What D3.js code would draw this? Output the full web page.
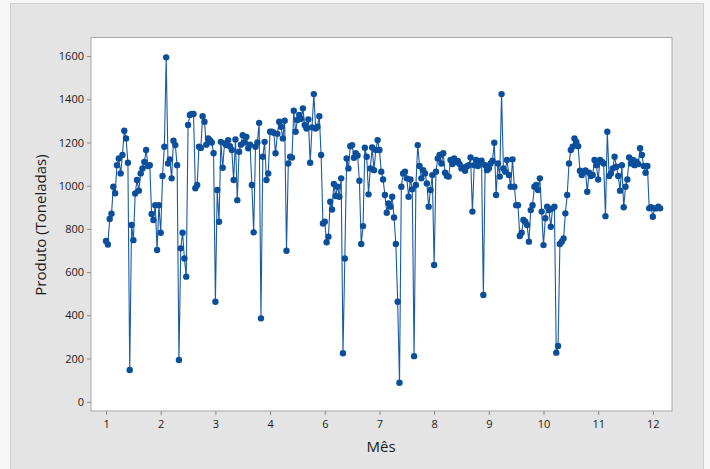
<!DOCTYPE html>
<html>
<head>
<meta charset="utf-8">
<script src="https://cdn.jsdelivr.net/npm/d3@7"></script>
<style>
  body { margin: 0; background: #f7f7f7; }
  text { font-family: "Open Sans", "Noto Sans", sans-serif; fill: #1a1a1a; }
  .tick text { font-size: 11px; fill: #1a1a1a; }
  .axis-label { font-size: 15px; }
</style>
</head>
<body>
<div id="chart"></div>
<script>
// produção diária por mês (toneladas)
const mes1 = [744, 728, 846, 870, 995, 965, 1095, 1126, 1057, 1142, 1254, 1219, 1106, 147, 818, 748, 964, 1026, 977, 1057, 1080, 1110, 1165, 1091, 1095, 869, 841, 910, 702, 910];
const mes2 = [782, 1045, 1180, 1594, 1103, 1122, 1034, 1208, 1188, 1095, 193, 710, 782, 663, 579, 1281, 1327, 1332, 1332, 988, 1003, 1180, 1175, 1322, 1296, 1190, 1219, 1211, 1200, 1150];
const mes3 = [463, 980, 833, 1203, 1083, 1196, 1188, 1211, 1183, 1165, 1026, 1214, 933, 1157, 1190, 1234, 1200, 1226, 1173, 1190, 1003, 784, 1180, 1200, 1291, 386, 1134, 1203, 1026, 1057];
const mes4 = [1250, 1250, 1245, 1150, 1240, 1296, 1273, 1219, 1301, 699, 1103, 1134, 1130, 1347, 1250, 1304, 1327, 1310, 1358, 1281, 1265, 1307, 1106, 1270, 1424, 1265, 1273, 1322, 1142, 825];
const mes6 = [833, 738, 764, 926, 890, 1008, 952, 995, 949, 1034, 224, 663, 1126, 1080, 1183, 1188, 1129, 1150, 1140, 1023, 730, 813, 1176, 1134, 960, 1080, 1177, 1072, 1165, 1211];
const mes7 = [1165, 1065, 1029, 957, 875, 918, 903, 949, 853, 730, 463, 88, 995, 1057, 1065, 1034, 949, 1029, 983, 211, 1003, 1188, 1091, 1034, 1072, 1057, 1010, 903, 980, 1049];
const mes8 = [633, 1065, 1126, 1142, 1103, 1150, 1060, 1045, 1042, 1119, 1100, 1126, 1110, 1115, 1100, 1080, 1085, 1069, 1090, 1095, 1131, 880, 1095, 1119, 1091, 1110, 1116, 494, 1095, 1072];
const mes9 = [1080, 1103, 1116, 1199, 957, 1103, 1042, 1424, 1080, 1065, 1119, 1050, 995, 1122, 995, 910, 910, 767, 782, 841, 833, 818, 741, 887, 910, 995, 1003, 980, 1034, 880];
const mes10 = [725, 849, 903, 887, 810, 895, 903, 227, 258, 730, 741, 756, 872, 957, 1103, 1165, 1180, 1219, 1203, 1183, 1069, 1049, 1065, 1070, 972, 1060, 1045, 1050, 1119, 1095];
const mes11 = [1029, 1119, 1111, 1103, 859, 1250, 1045, 1057, 1080, 1134, 1088, 1045, 977, 1095, 900, 995, 1029, 1131, 1103, 1119, 1095, 1111, 1100, 1173, 1142, 1091, 1060, 1091, 895, 900];
const mes12 = [856, 895, 895, 903, 895];

const meses = ["1", "2", "3", "4", "6", "7", "8", "9", "10", "11", "12"];
const yTicks = [0, 200, 400, 600, 800, 1000, 1200, 1400, 1600];

const porMes = [mes1, mes2, mes3, mes4, mes6, mes7, mes8, mes9, mes10, mes11, mes12];

// junta tudo numa série indexada e guarda onde começa cada mês
let data = [];
let inicioMes = [];
porMes.forEach(arr => {
    inicioMes.push(data.length);
    arr.forEach(v => data.push({i: data.length, v: v}));
});

const W = 710, H = 469;
let margin = {top: 37.5, right: 38, bottom: 58, left: 91},
    width = W - margin.left - margin.right,
    height = H - margin.top - margin.bottom;

let svg = d3.select("#chart")
    .append("svg")
        .attr("width", W)
        .attr("height", H);

// fundo cinza
svg.append("rect")
    .attr("x", 10.5).attr("y", 3.5)
    .attr("width", 693).attr("height", 470)
    .attr("fill", "#e4e4e4")
    .attr("stroke", "#cfcfcf");

let g = svg.append("g")
    .attr("transform", `translate(${margin.left}, ${margin.top})`);

g.append("rect")
    .attr("width", width).attr("height", height)
    .attr("fill", "#fff")
    .attr("stroke", "#a6a6a6");

const x = d3.scaleLinear()
    .domain([-8.25, 310.5])
    .range([0, width]);

const y = d3.scaleLinear()
    .domain([-43, 1686])
    .range([height, 0]);

let xAxis = g.append("g")
    .attr("transform", `translate(0, ${height})`)
    .call(d3.axisBottom(x)
        .tickValues(inicioMes)
        .tickFormat((d, k) => meses[k])
        .tickSize(4)
        .tickPadding(5));

let yAxis = g.append("g")
    .call(d3.axisLeft(y)
        .tickValues(yTicks)
        .tickFormat(d3.format("d"))
        .tickSize(4)
        .tickPadding(3));

[xAxis, yAxis].forEach(a => {
    a.select(".domain").remove();
    a.selectAll(".tick line").attr("stroke", "#8a8a8a");
});

const line = d3.line()
    .x(d => x(d.i))
    .y(d => y(d.v));

g.append("path")
    .datum(data)
    .attr("fill", "none")
    .attr("stroke", "#1a5aa6")
    .attr("stroke-width", 1.1)
    .attr("d", line);

g.selectAll("circle")
    .data(data)
    .join("circle")
        .attr("cx", d => x(d.i))
        .attr("cy", d => y(d.v))
        .attr("r", 3.2)
        .attr("fill", "#0b4f9c");

svg.append("text")
    .attr("class", "axis-label")
    .attr("text-anchor", "middle")
    .attr("x", 381)
    .attr("y", 452)
    .text("Mês");

svg.append("text")
    .attr("class", "axis-label")
    .attr("text-anchor", "middle")
    .attr("transform", "translate(46, 225) rotate(-90)")
    .text("Produto (Toneladas)");
</script>
</body>
</html>
